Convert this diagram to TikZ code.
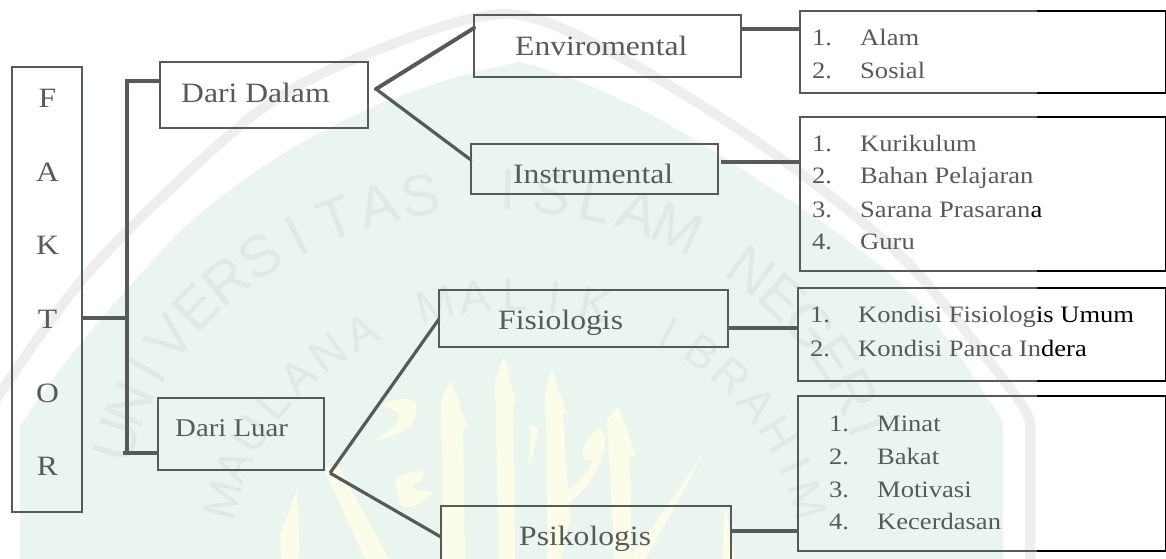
\documentclass[tikz,border=0pt]{standalone}
\usepackage{fontspec}
\setmainfont[FakeStretch=1.13]{Liberation Serif}
\newfontfamily\wmfont{Liberation Sans}
\definecolor{ink}{HTML}{565B59}
\definecolor{wmfill}{HTML}{EAF5F0}
\definecolor{wmband}{HTML}{EDEEED}
\definecolor{wmtxt}{HTML}{E0E9E5}
\definecolor{wmyel}{HTML}{FCFDE8}
\newcommand\boxn[5]{\node[boxst,minimum width={(#4-#2)*1pt},minimum height={(#5-#3)*1pt}] (#1) at ({(#2+#4)/2},{(#3+#5)/2}) {};}
\newcommand\blk[1]{\draw[blackedge] (#1.north east) -- (#1.north east -| blackx);\draw[blackedge] (#1.south east) -- (#1.south east -| blackx);\draw[blackedge] (#1.north east) -- (#1.south east);}
\tikzset{
  boxst/.style={draw=ink,line width=1.8pt,inner sep=0pt,outer sep=0pt},
  blackedge/.style={draw=black,line width=1.9pt},
  thick line/.style={draw=ink,line width=3.6pt},
  mid line/.style={draw=ink,line width=3.3pt},
  big/.style={text=ink,font=\fontsize{28}{30}\selectfont,inner sep=0pt,anchor=base west},
  luar/.style={text=ink,font=\fontsize{25.5}{28}\selectfont,inner sep=0pt,anchor=base west},
  letter/.style={text=ink,font=\fontsize{28}{30}\selectfont,inner sep=0pt,anchor=base},
  item/.style={text=ink,font=\fontsize{23.5}{26}\selectfont,inner sep=0pt,anchor=base west},
  wmletter/.style={text=wmtxt,inner sep=0pt},
}
\begin{document}
\begin{tikzpicture}[x=1pt,y=-1pt]
\useasboundingbox (0,0) rectangle (1166,558);
\clip (0,0) rectangle (1166,558);
% watermark
\draw[wmband,line width=10pt,line join=round] plot[smooth,tension=0.5] coordinates {(-30,435) (-15,415) (93,267) (260,110) (390,45) (510,14) (620,57) (769,150) (905,260) (1015,395) (1030,425)} -- (1030,570);
\fill[wmfill] (20,570) -- (20,426) .. controls (70,350) and (130,285) .. (178,233) .. controls (280,140) and (400,85) .. (520,62) .. controls (610,85) and (700,140) .. (769,187) .. controls (830,225) and (890,270) .. (918,300) .. controls (950,340) and (980,385) .. (1003,422) -- (1003,570) -- cycle;
\foreach \c [count=\i from 0] in {U,N,I,V,E,R,S,I,T,A,S,{ },I,S,L,A,M,{ },N,E,G,E,R,I}{
  \pgfmathsetmacro\t{-76+\i*6.5}
  \pgfmathsetmacro\px{495+390*sin(\t)}
  \pgfmathsetmacro\py{520-330*cos(\t)}
  \pgfmathsetmacro\r{atan2(-330*sin(\t),390*cos(\t))}
  \node[wmletter,font=\wmfont\fontsize{58}{58}\selectfont,rotate=\r] (wa\i) at (\px,\py) {\c};
}
\foreach \c [count=\i from 0] in {M,A,U,L,A,N,A,{ },M,A,L,I,K,{ },I,B,R,A,H,I,M}{
  \pgfmathsetmacro\t{-77+\i*7.7}
  \pgfmathsetmacro\px{515+300*sin(\t)}
  \pgfmathsetmacro\py{560-265*cos(\t)}
  \pgfmathsetmacro\r{atan2(-265*sin(\t),300*cos(\t))}
  \node[wmletter,font=\wmfont\fontsize{46}{46}\selectfont,rotate=\r] (wb\i) at (\px,\py) {\c};
}
\fill[wmyel] (451,380) -- (468,428) -- (463,428) -- (465,570) -- (443,570) -- (441,400) -- cycle;
\fill[wmyel] (504,357) -- (516,402) -- (513,402) -- (515,570) -- (499,570) -- (495,380) -- cycle;
\fill[wmyel] (552,370) -- (567,415) -- (563,412) -- (570,520) -- (558,570) -- (548,570) -- (545,390) -- cycle;
\fill[wmyel] (618,407) -- (637,457) -- (630,455) -- (632,570) -- (615,570) -- (607,420) -- cycle;
\fill[wmyel] (702,455) .. controls (680,500) and (660,530) .. (640,570) -- (620,570) .. controls (650,530) and (680,490) .. (702,455) -- cycle;
\fill[wmyel] (297,490) -- (300,570) -- (282,570) -- (280,535) -- cycle;
\fill[wmyel] (323,467) -- (338,465) -- (395,570) -- (370,570) -- cycle;
\fill[wmyel] (380,405) .. controls (400,395) and (410,400) .. (416,402) .. controls (418,425) and (410,432) .. (375,440) .. controls (395,428) and (402,420) .. (398,412) -- cycle;
\fill[wmyel] (395,480) .. controls (405,472) and (420,470) .. (426,472) -- (420,482) .. controls (410,484) and (405,490) .. (433,492) .. controls (420,505) and (410,510) .. (400,505) -- cycle;
\fill[wmyel] (530,425) -- (538,428) -- (534,450) -- (529,467) -- (530,445) -- cycle;
\fill[wmyel] (600,428) .. controls (588,435) and (578,452) .. (585,460) .. controls (595,462) and (600,458) .. (602,455) .. controls (596,480) and (580,495) .. (565,505) -- (562,495) .. controls (575,485) and (590,472) .. (592,462) .. controls (605,460) and (610,440) .. (600,428) -- cycle;
\fill[wmyel] (725,505) -- (735,560) -- (722,560) -- cycle;
% helper
\coordinate (blackx) at (1036.5,0);
% boxes
\boxn{faktor}{12}{67}{82}{512}
\boxn{dalam}{160}{62}{368}{128}
\boxn{luarb}{158}{398}{324}{470}
\boxn{env}{474}{15}{741}{77}
\boxn{ins}{471}{144}{718}{194}
\boxn{fis}{439}{290}{728}{347}
\boxn{psi}{441}{506}{731}{575}
\boxn{lista}{800}{11}{1165.5}{93}
\boxn{listb}{800}{117}{1165.5}{271}
\boxn{listc}{798}{288}{1165.5}{381}
\boxn{listd}{798}{396}{1165.5}{551}
\blk{lista}\blk{listb}\blk{listc}\blk{listd}
% branch points
\coordinate (bustop) at (127,81);
\coordinate (busbot) at (127,453);
\coordinate (busmid) at (127,318);
\coordinate (forka) at (376,89);
\coordinate (forkb) at (330,473);
% connectors
\draw[mid line,line cap=rect] (bustop) -- (busbot);
\draw[thick line] (bustop) -- ([yshift=-19pt]dalam.north west);
\draw[thick line] ([xshift=-4pt]busbot) -- ([yshift=17pt]luarb.south west);
\draw[mid line] (faktor.east |- busmid) -- (busmid);
\draw[draw=ink,line width=4pt,line cap=round] (forka) -- ([yshift=-13pt]env.north west);
\draw[draw=ink,line width=3.2pt,line cap=round] (forka) -- ([yshift=-16pt]ins.north west);
\draw[draw=ink,line width=3.2pt] (forkb) -- ([yshift=-29pt]fis.north west);
\draw[draw=ink,line width=3.2pt] (forkb) -- ([yshift=-31pt]psi.north west);
\draw[thick line] ([yshift=-14pt]env.north east) -- ([yshift=-18pt]lista.north west);
\draw[thick line] ([xshift=3pt,yshift=-18pt]ins.north east) -- ([yshift=-45pt]listb.north west);
\draw[thick line] ([yshift=-38pt]fis.north east) -- ([yshift=-40pt]listc.north west);
\draw[thick line] ([yshift=-25pt]psi.north east) -- ([yshift=-135pt]listd.north west);
% texts
\node[letter] (tf) at (47.5,107) {F};
\node[letter] (ta) at (47.5,181) {A};
\node[letter] (tk) at (47.5,254) {K};
\node[letter] (tt) at (47.5,328) {T};
\node[letter] (to) at (47.5,402) {O};
\node[letter] (tr) at (47.5,475) {R};
\node[big] (tdalam) at (181,102) {Dari Dalam};
\node[luar] (tluar) at (175,436) {Dari Luar};
\node[big] (tenv) at (515,55) {Enviromental};
\node[big] (tins) at (513,183) {Instrumental};
\node[big] (tfis) at (498,329) {Fisiologis};
\node[big] (tpsi) at (519,545) {Psikologis};
\node[item] (a1) at (812,45) {1.};
\node[item] (a1t) at (860,45) {Alam};
\node[item] (a2) at (812,78) {2.};
\node[item] (a2t) at (860,78) {Sosial};
\node[item] (b1) at (812,151) {1.};
\node[item] (b1t) at (860,151) {Kurikulum};
\node[item] (b2) at (812,183) {2.};
\node[item] (b2t) at (860,183) {Bahan Pelajaran};
\node[item] (b3) at (812,217) {3.};
\node[item] (b3t) at (860,217) {Sarana Prasaran{\color{black}a}};
\node[item] (b4) at (812,249) {4.};
\node[item] (b4t) at (860,249) {Guru};
\node[item] (c1) at (810,322) {1.};
\node[item] (c1t) at (858,322) {Kondisi Fisiolog{\color{black}is Umum}};
\node[item] (c2) at (810,356) {2.};
\node[item] (c2t) at (858,356) {Kondisi Panca In{\color{black}dera}};
\node[item] (d1) at (829,431) {1.};
\node[item] (d1t) at (877,431) {Minat};
\node[item] (d2) at (829,464) {2.};
\node[item] (d2t) at (877,464) {Bakat};
\node[item] (d3) at (829,497) {3.};
\node[item] (d3t) at (877,497) {Motivasi};
\node[item] (d4) at (829,529) {4.};
\node[item] (d4t) at (877,529) {Kecerdasan};
\end{tikzpicture}
\end{document}
